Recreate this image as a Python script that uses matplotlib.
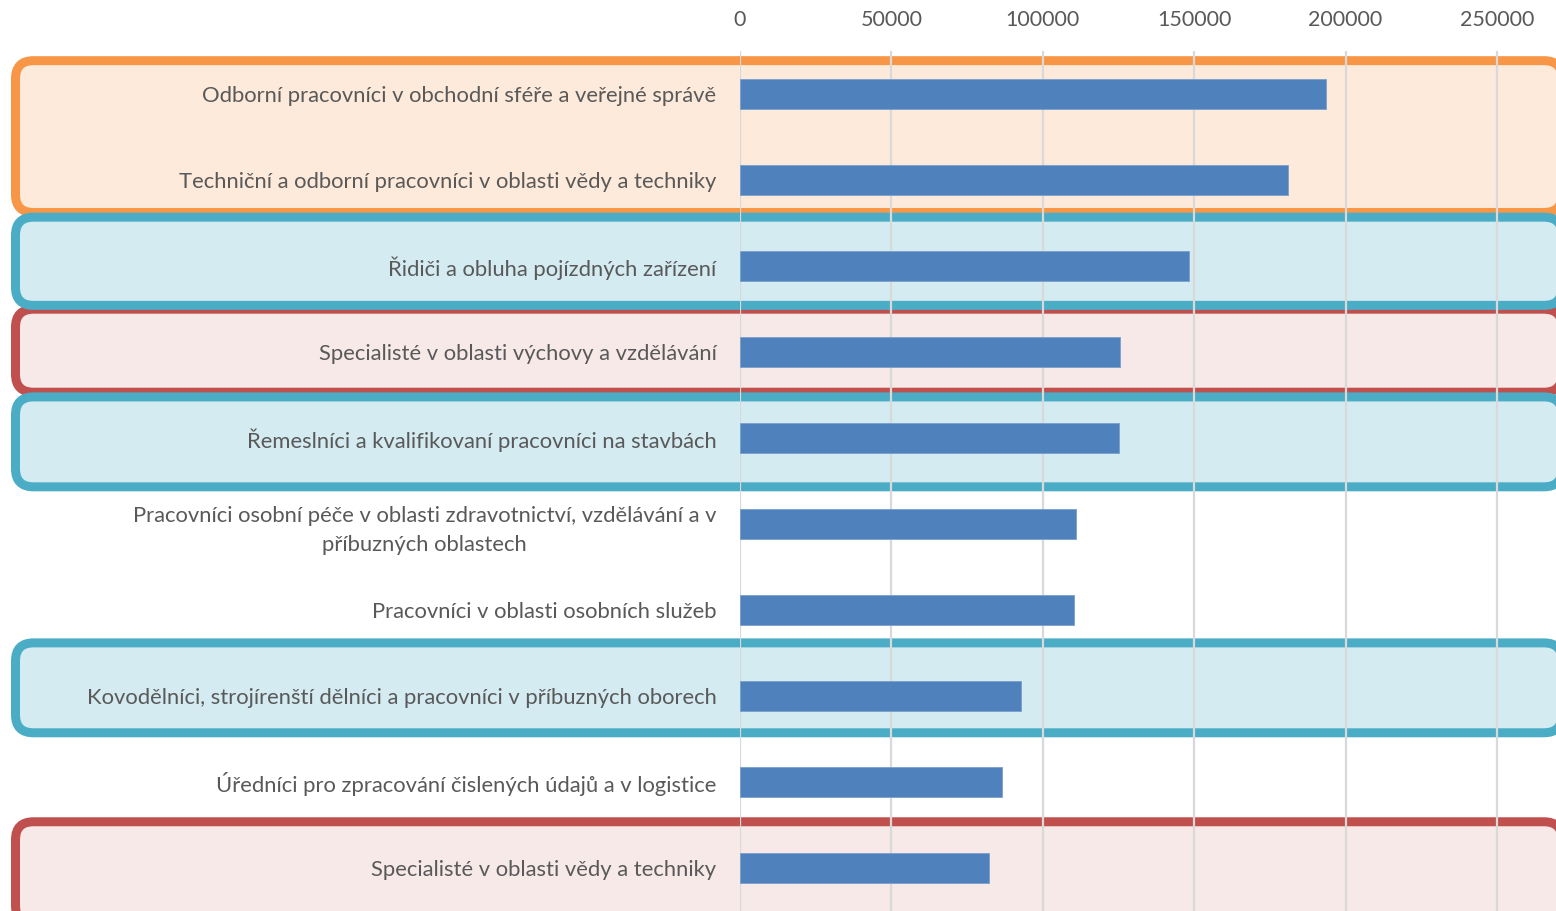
import matplotlib
matplotlib.use("Agg")
import matplotlib.pyplot as plt
from matplotlib.patches import FancyBboxPatch
from matplotlib.transforms import IdentityTransform

# data (top to bottom)
categories = [
    "Odborní pracovníci v obchodní sféře a veřejné správě",
    "Techniční a odborní pracovníci v oblasti vědy a techniky",
    "Řidiči a obluha pojízdných zařízení",
    "Specialisté v oblasti výchovy a vzdělávání",
    "Řemeslníci a kvalifikovaní pracovníci na stavbách",
    "Pracovníci osobní péče v oblasti zdravotnictví, vzdělávání a v\npříbuzných oblastech",
    "Pracovníci v oblasti osobních služeb",
    "Kovodělníci, strojírenští dělníci a pracovníci v příbuzných oborech",
    "Úředníci pro zpracování čislených údajů a v logistice",
    "Specialisté v oblasti vědy a techniky",
]
values = [193500, 181000, 148300, 125500, 125200, 111000, 110300, 92800, 86500, 82200]
xticks = [0, 50000, 100000, 150000, 200000, 250000]

# highlight boxes: (top row edge, bottom row edge, style)
boxes = [
    (-0.44, 1.43, "orange"),
    (2.45, 3.52, "red"),
    (8.41, 9.70, "red"),
    (1.38, 2.51, "blue"),
    (3.47, 4.62, "blue"),
    (6.33, 7.48, "blue"),
]
box_styles = {
    "orange": ("#F79646", "#FDEADA"),
    "blue": ("#4BACC6", "#D4EBF1"),
    "red": ("#C0504D", "#F7E9E8"),
}

W, H = 1556, 911
fig = plt.figure(figsize=(W / 100, H / 100), dpi=100)
ax = fig.add_axes([740 / W, 0, (W - 740) / W, (H - 51) / H])
ax.set_facecolor("none")

y = list(range(len(categories)))
ax.barh(y, values, height=0.35, color="#4F81BD", edgecolor="#7A9FCC",
        linewidth=0.6, zorder=3)

ax.set_xlim(0, 269500)
ax.set_ylim(len(categories) - 0.5, -0.5)
ax.set_xticks(xticks)
ax.set_xticklabels([str(t) for t in xticks])
ax.set_yticks(y)
ax.set_yticklabels(categories, multialignment="center", linespacing=1.55)
ax.xaxis.tick_top()
ax.tick_params(axis="x", length=0, pad=15, labelsize=15.5, labelcolor="#595959")
ax.tick_params(axis="y", length=0, pad=17, labelsize=15.8, labelcolor="#595959")
for lbl in ax.get_xticklabels() + ax.get_yticklabels():
    lbl.set_fontfamily("Lato")
for s in ax.spines.values():
    s.set_visible(False)
ax.set_axisbelow(True)
ax.grid(axis="x", color="#D9D9D9", linewidth=1.6, zorder=0.5)
ax.grid(axis="y", visible=False)

# rounded boxes in pixel space so corners stay round
lw_px = 9
left_px, right_px = 11 + lw_px / 2, 1562
for top, bottom, style in boxes:
    edge, face = box_styles[style]
    y_top = ax.transData.transform((0, top))[1] - lw_px / 2
    y_bot = ax.transData.transform((0, bottom))[1] + lw_px / 2
    patch = FancyBboxPatch((left_px, y_bot), right_px - left_px, y_top - y_bot,
                           boxstyle="round,pad=0,rounding_size=18",
                           facecolor=face, edgecolor=edge, linewidth=lw_px * 0.72,
                           transform=IdentityTransform(), clip_on=False, zorder=0.2)
    ax.add_patch(patch)

fig.savefig("out.png", dpi=100)
